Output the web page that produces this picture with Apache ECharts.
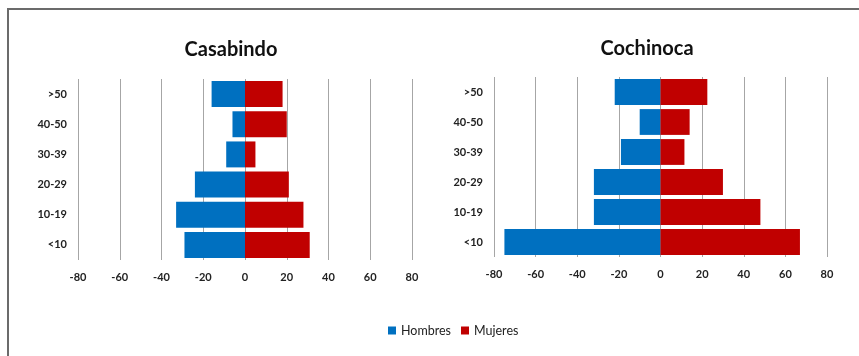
<!DOCTYPE html>
<html><head><meta charset="utf-8">
<script src="https://cdn.jsdelivr.net/npm/echarts@6/dist/echarts.min.js"></script>
<style>html,body{margin:0;padding:0;background:#fff;}#c{width:859px;height:356px;}</style>
</head><body><div id="c"></div>
<script>
const categories = ['<10','10-19','20-29','30-39','40-50','>50'];
const xTicks = [-80,-60,-40,-20,0,20,40,60,80];
const casabindoHombres = [-29, -33, -24, -9, -6, -16];
const casabindoMujeres = [31, 28, 21, 5, 20, 18];
const cochinocaHombres = [-75, -32, -32, -19, -10, -22];
const cochinocaMujeres = [67, 48, 30, 11.5, 14, 22.5];
const titles = ['Casabindo','Cochinoca'];
const seriesNames = ['Hombres','Mujeres'];

const blue = '#0070C0', red = '#C00000';
const font = 'Lato, "Open Sans", sans-serif';
const chart = echarts.init(document.getElementById('c'), null, {renderer:'canvas'});

function xAxis(i){
  return {gridIndex:i, type:'value', min:xTicks[0], max:xTicks[xTicks.length-1], interval:20,
    axisLine:{show:false}, axisTick:{show:false},
    splitLine:{show:true, lineStyle:{color:'#A6A6A6', width:1}},
    axisLabel:{color:'#222', fontFamily:font, fontWeight:'bold', fontSize:11, margin:12}};
}
function yAxis(i){
  return {gridIndex:i, type:'category', data:categories,
    axisLine:{show:false}, axisTick:{show:false},
    axisLabel:{color:'#222', fontFamily:font, fontWeight:'bold', fontSize:11, margin:11}};
}
function bar(name, data, i, color){
  return {name:name, type:'bar', xAxisIndex:i, yAxisIndex:i, stack:'s'+i, data:data,
    barCategoryGap:'14%', itemStyle:{color:color}, emphasis:{disabled:true}};
}

chart.setOption({
  animation:false,
  title:[
    {text:titles[0], left:226, top:35, textAlign:'center', textStyle:{fontFamily:font, fontWeight:'bold', fontSize:20, color:'#111'}},
    {text:titles[1], left:642, top:34, textAlign:'center', textStyle:{fontFamily:font, fontWeight:'bold', fontSize:20, color:'#111'}}
  ],
  legend:{data:seriesNames, left:383, top:319, icon:'rect', itemWidth:8, itemHeight:8, itemGap:10,
    textStyle:{fontFamily:font, fontSize:12.5, color:'#222'}},
  grid:[
    {left:78, right:447, top:79, bottom:96},
    {left:494, right:32, top:77, bottom:99}
  ],
  xAxis:[xAxis(0), xAxis(1)],
  yAxis:[yAxis(0), yAxis(1)],
  series:[
    bar(seriesNames[0], casabindoHombres, 0, blue),
    bar(seriesNames[1], casabindoMujeres, 0, red),
    bar(seriesNames[0], cochinocaHombres, 1, blue),
    bar(seriesNames[1], cochinocaMujeres, 1, red)
  ],
  graphic:[
    {type:'polyline', shape:{points:[[8,356],[8,9],[859,9]]}, style:{stroke:'#6b6b6b', lineWidth:2, fill:null}, silent:true}
  ]
});
</script></body></html>
